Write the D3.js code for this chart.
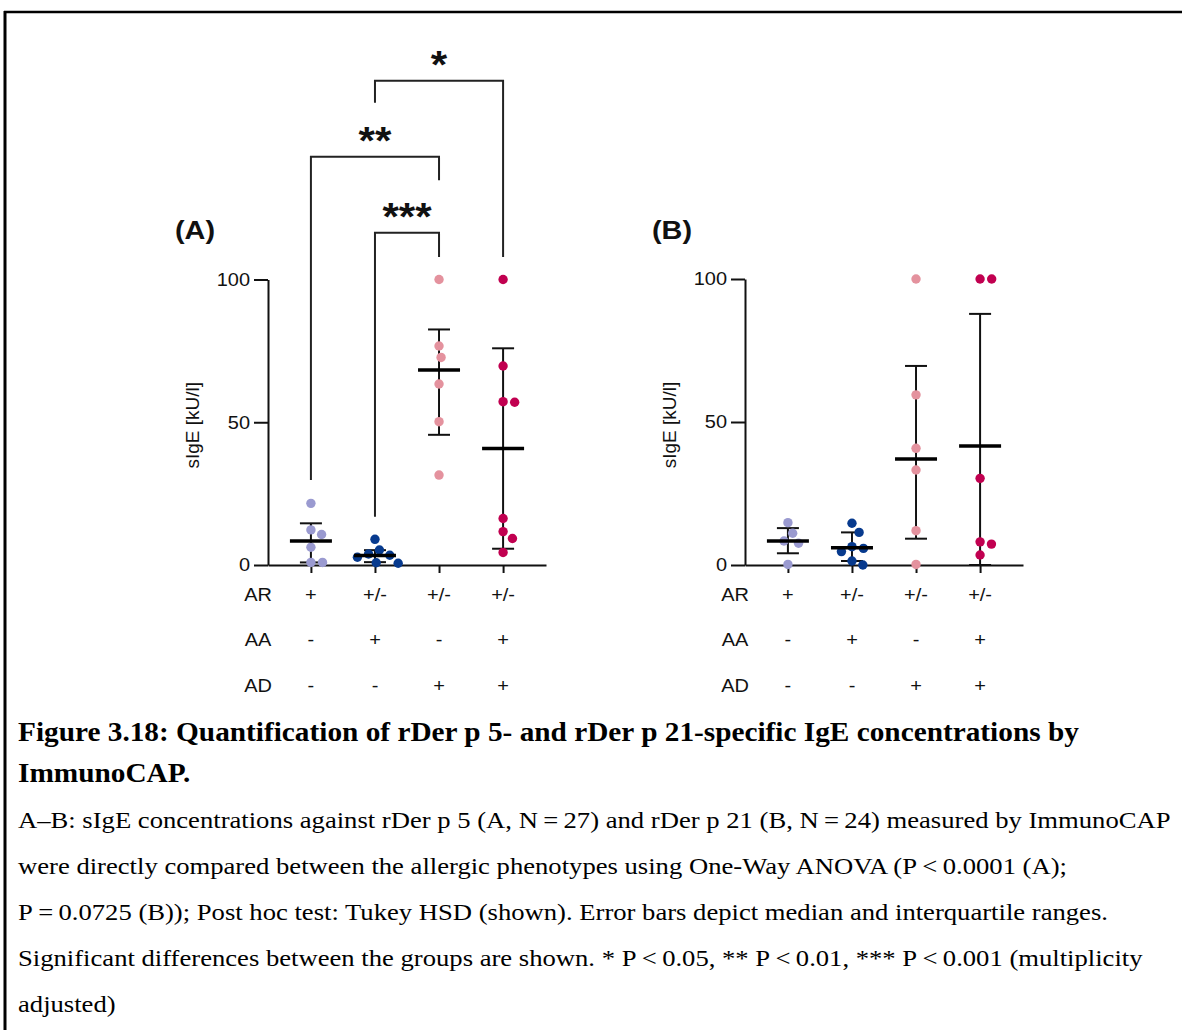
<!DOCTYPE html>
<html>
<head>
<meta charset="utf-8">
<script src="https://cdn.jsdelivr.net/npm/d3@7"></script>
<style>
  body { margin: 0; background: #fff; }
  svg { display: block; }
</style>
</head>
<body>
<svg id="fig" width="1182" height="1030"></svg>
<script>
// ---- data ----------------------------------------------------------
const groups = ["AR", "AR/AA", "AR/AD", "AR/AA/AD"];
const rowLabels = ["AR", "AA", "AD"];
const phenotypeRows = [
  ["+", "+/-", "+/-", "+/-"],
  ["-", "+", "-", "+"],
  ["-", "-", "+", "+"]
];
const groupColors = ["#9a9ad0", "#073a8e", "#e4929e", "#c10050"];
const yTicks = [0, 50, 100];

// (A) sIgE against rDer p 5, kU/l
const derP5Values = [
  [21.6, 12.3, 10.7, 6.2, 0.9, 0.9],
  [9.0, 5.25, 3.85, 3.4, 2.7, 0.8, 0.6],
  [100, 76.7, 72.7, 63.4, 50.2, 31.5],
  [100, 69.7, 57.2, 57.0, 16.3, 11.7, 9.3, 4.4]
];
const derP5Center = [8.4, 3.3, 68.3, 40.8];
const derP5Low = [0.9, 1.0, 45.6, 5.7];
const derP5High = [14.6, 5.2, 82.5, 75.9];

// (B) sIgE against rDer p 21, kU/l
const derP21Values = [
  [14.8, 11.1, 8.4, 7.6, 0.2],
  [14.6, 11.4, 6.4, 5.8, 4.7, 1.4, 0.0],
  [100, 59.5, 40.8, 33.2, 12.0, 0.2],
  [100, 100, 30.3, 8.1, 7.3, 3.5]
];
const derP21Center = [8.4, 6.0, 37.1, 41.6];
const derP21Low = [4.1, 1.4, 9.2, 0];
const derP21High = [12.9, 11.4, 69.6, 87.8];

// Tukey HSD comparisons for (A): bracket height and leg ends in axis units
const comparisonsA = [
  { from: 1, to: 2, stars: "***", top: 116.4, endFrom: 16.9, endTo: 107.9 },
  { from: 0, to: 2, stars: "**",  top: 143.0, endFrom: 29.8, endTo: 134.8 },
  { from: 1, to: 3, stars: "*",   top: 169.6, endFrom: 161.9, endTo: 107.9 }
];

const captionTitle = [
  "Figure 3.18: Quantification of rDer p 5- and rDer p 21-specific IgE concentrations by",
  "ImmunoCAP."
];
const captionBody = [
  "A\u2013B: sIgE concentrations against rDer p 5 (A, N\u2009=\u200927) and rDer p 21 (B, N\u2009=\u200924) measured by ImmunoCAP",
  "were directly compared between the allergic phenotypes using One-Way ANOVA (P\u2009<\u20090.0001 (A);",
  "P\u2009=\u20090.0725 (B)); Post hoc test: Tukey HSD (shown). Error bars depict median and interquartile ranges.",
  "Significant differences between the groups are shown. * P\u2009<\u20090.05, ** P\u2009<\u20090.01, *** P\u2009<\u20090.001 (multiplicity",
  "adjusted)"
];

// ---- drawing -------------------------------------------------------
const svg = d3.select("#fig");
const sans = "'Liberation Sans', Arial, sans-serif";
const serif = "'Liberation Serif', 'Times New Roman', serif";
const ink = "#111";
const widen = 1.11;   // the figure's lettering is set slightly wide

// place a text at (x, y) with the horizontal widening applied
function wideText(parent, x, y) {
  return parent.append("text").attr("transform", `translate(${x},${y}) scale(${widen},1)`);
}

// frame
svg.append("line").attr("x1", 4).attr("x2", 1182).attr("y1", 12).attr("y2", 12)
  .attr("stroke", "#000").attr("stroke-width", 2.5);
svg.append("line").attr("x1", 5).attr("x2", 5).attr("y1", 11).attr("y2", 1030)
  .attr("stroke", "#000").attr("stroke-width", 3);

const dotR = 4.7;

// simple dodge layout: horizontal offsets so dots do not overlap
function dodge(ys, minDist) {
  const placed = [];
  const order = ys.map((y, i) => i).sort((a, b) => ys[a] - ys[b]);
  const out = new Array(ys.length);
  for (const i of order) {
    const y = ys[i];
    const near = placed.filter(p => Math.abs(p.y - y) < minDist);
    const cands = [0];
    for (const p of near) {
      const dx = Math.sqrt(minDist * minDist - (p.y - y) * (p.y - y));
      cands.push(p.x + dx, p.x - dx);
    }
    cands.sort((a, b) => Math.abs(a) - Math.abs(b) || b - a);
    let x = cands.find(c => near.every(p => Math.hypot(p.x - c, p.y - y) >= minDist - 1e-6));
    if (x === undefined) x = 0;
    placed.push({ x, y });
    out[i] = x;
  }
  return out;
}

function drawPanel(opt) {
  const x0 = opt.axisX;
  const g = svg.append("g");
  const y = d3.scaleLinear().domain([0, 100]).range([565, opt.top100]);
  const x = d3.scalePoint().domain(groups).range([x0, x0 + 278]).padding(0.67);

  // y axis
  const yAxis = g.append("g").attr("transform", `translate(${x0},0)`)
    .call(d3.axisLeft(y).tickValues(yTicks).tickSize(14).tickSizeOuter(0).tickPadding(4));
  yAxis.select(".domain").attr("stroke", ink).attr("stroke-width", 2);
  yAxis.selectAll(".tick line").attr("stroke", ink).attr("stroke-width", 2);
  yAxis.selectAll(".tick text").each(function () {
    const t = d3.select(this);
    const tx = +t.attr("x");
    t.attr("x", 0).attr("transform", `translate(${tx},0) scale(${widen},1)`)
      .attr("font-family", sans).attr("font-size", 18).attr("fill", "#111");
  });

  // x axis
  const xAxis = g.append("g").attr("transform", `translate(0,${y(0)})`)
    .call(d3.axisBottom(x).tickSize(8).tickSizeOuter(0).tickFormat(""));
  xAxis.select(".domain").attr("stroke", ink).attr("stroke-width", 2);
  xAxis.selectAll(".tick line").attr("stroke", ink).attr("stroke-width", 2);

  // y label
  g.append("text")
    .attr("transform", `translate(${x0 - 76},${(y(0) + y(100)) / 2 + 3}) rotate(-90)`)
    .attr("text-anchor", "middle").attr("dominant-baseline", "central")
    .attr("font-family", sans).attr("font-size", 19).attr("fill", "#111")
    .text("sIgE [kU/l]");

  // panel letter
  wideText(g, x0 - 93, 239)
    .attr("font-family", sans).attr("font-weight", "bold").attr("font-size", 26)
    .attr("fill", "#111").text(opt.letter);

  // phenotype table under the axis
  const rowY = [601, 646, 692];
  rowLabels.forEach((lab, r) => {
    wideText(g, x0 - 10, rowY[r]).attr("text-anchor", "middle")
      .attr("font-family", sans).attr("font-size", 18).attr("fill", "#111").text(lab);
    phenotypeRows[r].forEach((s, k) => {
      wideText(g, x(groups[k]), rowY[r]).attr("text-anchor", "middle")
        .attr("font-family", sans).attr("font-size", 18).attr("fill", "#111").text(s);
    });
  });

  // significance brackets
  (opt.comparisons || []).forEach(c => {
    const xa = x(groups[c.from]), xb = x(groups[c.to]);
    g.append("path")
      .attr("d", `M${xa},${y(c.endFrom)}V${y(c.top)}H${xb}V${y(c.endTo)}`)
      .attr("fill", "none").attr("stroke", "#222").attr("stroke-width", 2);
    wideText(g, (xa + xb) / 2, y(c.top) - 3)
      .attr("text-anchor", "middle").attr("font-family", sans).attr("font-weight", "bold")
      .attr("font-size", 38).attr("fill", "#111").text(c.stars);
  });

  groups.forEach((grp, k) => {
    const cx = x(grp);
    const capHalf = 11, meanHalf = 21;
    // error bar
    g.append("line").attr("x1", cx).attr("x2", cx)
      .attr("y1", y(opt.low[k])).attr("y2", y(opt.high[k]))
      .attr("stroke", ink).attr("stroke-width", 2);
    [opt.low[k], opt.high[k]].forEach(v => {
      g.append("line").attr("x1", cx - capHalf).attr("x2", cx + capHalf)
        .attr("y1", y(v)).attr("y2", y(v)).attr("stroke", ink).attr("stroke-width", 2);
    });
    // dots
    const ys = opt.values[k].map(v => y(v));
    const offs = dodge(ys, 2 * dotR + 2.2);
    g.selectAll(null).data(opt.values[k]).join("circle")
      .attr("cx", (d, i) => cx + offs[i]).attr("cy", d => y(d))
      .attr("r", dotR).attr("fill", groupColors[k]);
    // centre line
    g.append("line").attr("x1", cx - meanHalf).attr("x2", cx + meanHalf)
      .attr("y1", y(opt.center[k])).attr("y2", y(opt.center[k]))
      .attr("stroke", "#000").attr("stroke-width", 3.5);
  });
}

drawPanel({ axisX: 268, top100: 279.5, letter: "(A)", values: derP5Values,
  center: derP5Center, low: derP5Low, high: derP5High, comparisons: comparisonsA });
drawPanel({ axisX: 745, top100: 279, letter: "(B)", values: derP21Values,
  center: derP21Center, low: derP21Low, high: derP21High });

// caption
const titleY = [741, 782];
captionTitle.forEach((t, i) => {
  wideText(svg, 18, titleY[i])
    .attr("font-family", serif).attr("font-weight", "bold").attr("font-size", 26.4)
    .attr("fill", "#000").text(t);
});
captionBody.forEach((t, i) => {
  wideText(svg, 18, 828 + i * 46)
    .attr("font-family", serif).attr("font-size", 24)
    .attr("fill", "#000").text(t);
});
</script>
</body>
</html>
